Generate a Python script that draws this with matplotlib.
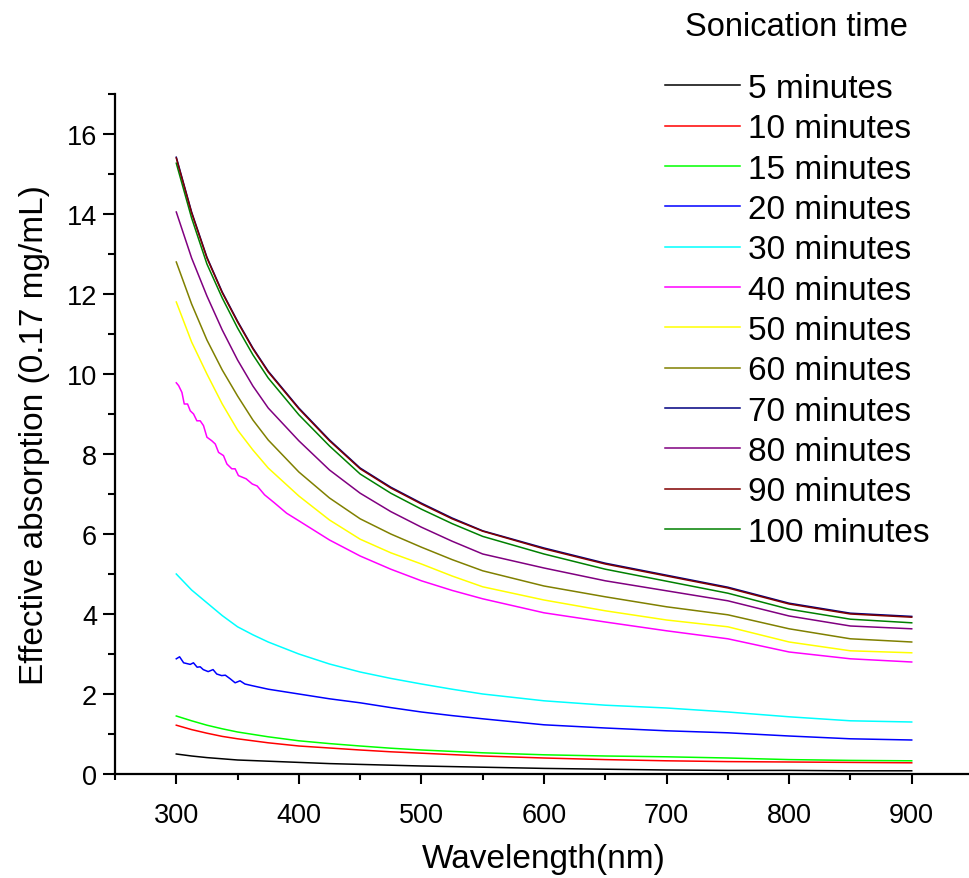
import matplotlib
matplotlib.use("Agg")
import matplotlib.pyplot as plt
from matplotlib.ticker import MultipleLocator

plt.rcParams['font.family'] = ['Liberation Sans', 'DejaVu Sans']

# ---------------- data ----------------
x_grid = [300, 312.5, 325, 337.5, 350, 362.5, 375, 400, 425, 450, 475, 500, 525, 550, 600, 650, 700, 750, 800, 850, 900]

y_5 = [0.50, 0.45, 0.41, 0.38, 0.35, 0.335, 0.32, 0.29, 0.26, 0.24, 0.22, 0.20, 0.185, 0.17, 0.14, 0.12, 0.10, 0.09, 0.09, 0.08, 0.08]
y_10 = [1.22, 1.11, 1.02, 0.94, 0.88, 0.83, 0.78, 0.70, 0.65, 0.60, 0.555, 0.52, 0.485, 0.45, 0.40, 0.36, 0.33, 0.31, 0.30, 0.29, 0.28]
y_15 = [1.45, 1.33, 1.22, 1.13, 1.05, 0.99, 0.93, 0.83, 0.76, 0.70, 0.645, 0.60, 0.565, 0.53, 0.48, 0.45, 0.43, 0.40, 0.36, 0.34, 0.33]

x_20 = [300, 302.7, 306, 311.4, 314, 317, 319.5, 322, 326, 330, 333, 337, 340, 344, 348, 352, 356,
        361.6, 375, 400, 425, 450, 475, 500, 525, 550, 600, 650, 700, 750, 800, 850, 900]
y_20 = [2.88, 2.93, 2.78, 2.74, 2.78, 2.67, 2.68, 2.61, 2.56, 2.61, 2.50, 2.46, 2.47, 2.38, 2.28, 2.33, 2.25,
        2.21, 2.12, 2.00, 1.88, 1.78, 1.66, 1.55, 1.46, 1.38, 1.23, 1.15, 1.08, 1.03, 0.95, 0.88, 0.85]

y_30 = [5.00, 4.60, 4.28, 3.96, 3.68, 3.48, 3.30, 3.00, 2.75, 2.55, 2.39, 2.25, 2.12, 2.00, 1.83, 1.72, 1.65, 1.55, 1.43, 1.33, 1.30]

x_40 = [300, 301.9, 304.6, 306.5, 309.2, 311.4, 314.1, 316.8, 319.5, 322.2, 325, 329, 331.8, 334.5,
        338.5, 341.3, 345.3, 348, 350.7, 357, 362, 366, 372, 380, 390, 400, 425, 450, 475, 500, 525, 550,
        600, 650, 700, 750, 800, 850, 900]
y_40 = [9.78, 9.71, 9.54, 9.25, 9.25, 9.08, 9.00, 8.83, 8.83, 8.71, 8.42, 8.33, 8.25, 8.04,
        7.96, 7.75, 7.63, 7.63, 7.46, 7.38, 7.25, 7.20, 6.98, 6.78, 6.52, 6.33, 5.85, 5.45, 5.12, 4.83, 4.59, 4.38,
        4.03, 3.80, 3.58, 3.38, 3.05, 2.88, 2.80]

y_50 = [11.80, 10.80, 10.00, 9.25, 8.60, 8.10, 7.65, 6.95, 6.35, 5.87, 5.53, 5.25, 4.95, 4.68, 4.35, 4.08, 3.85, 3.68, 3.30, 3.08, 3.03]
y_60 = [12.80, 11.75, 10.85, 10.10, 9.45, 8.85, 8.35, 7.55, 6.90, 6.38, 6.00, 5.67, 5.36, 5.08, 4.70, 4.43, 4.18, 3.98, 3.63, 3.38, 3.30]
y_70 = [15.42, 14.05, 12.92, 12.05, 11.32, 10.65, 10.07, 9.15, 8.35, 7.65, 7.17, 6.77, 6.40, 6.08, 5.65, 5.27, 4.97, 4.67, 4.27, 4.02, 3.94]
y_80 = [14.05, 12.90, 11.95, 11.10, 10.35, 9.70, 9.15, 8.33, 7.60, 7.02, 6.56, 6.17, 5.82, 5.50, 5.15, 4.83, 4.58, 4.33, 3.95, 3.70, 3.63]
y_90 = [15.40, 14.03, 12.90, 12.03, 11.30, 10.63, 10.05, 9.13, 8.33, 7.63, 7.15, 6.75, 6.38, 6.07, 5.63, 5.25, 4.95, 4.65, 4.25, 4.00, 3.92]
y_100 = [15.27, 13.90, 12.75, 11.90, 11.15, 10.48, 9.90, 8.98, 8.20, 7.50, 7.02, 6.62, 6.26, 5.94, 5.50, 5.12, 4.82, 4.52, 4.12, 3.87, 3.78]

labels = ["5 minutes", "10 minutes", "15 minutes", "20 minutes", "30 minutes", "40 minutes",
          "50 minutes", "60 minutes", "70 minutes", "80 minutes", "90 minutes", "100 minutes"]
colors = ["#000000", "#FF0000", "#00FF00", "#0000FF", "#00FFFF", "#FF00FF",
          "#FFFF00", "#808000", "#000080", "#800080", "#800000", "#008000"]

series_x = [x_grid, x_grid, x_grid, x_20, x_grid, x_40, x_grid, x_grid, x_grid, x_grid, x_grid, x_grid]
series_y = [y_5, y_10, y_15, y_20, y_30, y_40, y_50, y_60, y_70, y_80, y_90, y_100]

# ---------------- figure ----------------
W, H = 970, 879
fig = plt.figure(figsize=(W / 100, H / 100), dpi=100)
ax = fig.add_axes([115 / W, 1 - 775 / H, (973 - 115) / W, 680 / H])

# draw order: 90 drawn over 70 so the dark red dominates
order = [0, 1, 2, 3, 4, 5, 6, 7, 9, 11, 8, 10]
handles = {}
for i in order:
    ln, = ax.plot(series_x[i], series_y[i], color=colors[i], lw=1.1, label=labels[i])
    handles[i] = ln

ax.set_xlim(250, 950)
ax.set_ylim(0, 17)
ax.xaxis.set_minor_locator(MultipleLocator(50))
ax.yaxis.set_major_locator(MultipleLocator(2))
ax.yaxis.set_minor_locator(MultipleLocator(1))
ax.set_xticks([300, 400, 500, 600, 700, 800, 900])

for s in ['top', 'right']:
    ax.spines[s].set_visible(False)
for s in ['left', 'bottom']:
    ax.spines[s].set_linewidth(1.6)

ax.tick_params(axis='both', which='major', direction='out', width=1.5, labelsize=19.5)
ax.tick_params(axis='both', which='minor', direction='out', width=1.5)
ax.tick_params(axis='x', which='major', length=7, pad=13)
ax.tick_params(axis='x', which='minor', length=4)
ax.tick_params(axis='y', which='major', length=9, pad=4)
ax.tick_params(axis='y', which='minor', length=5)

ax.set_xlabel("Wavelength(nm)", fontsize=24, labelpad=11)
ax.set_ylabel("Effective absorption (0.17 mg/mL)", fontsize=24, labelpad=12)

fig.text(796.5 / W, 1 - 28 / H, "Sonication time", fontsize=23.5, ha='center', va='center')
leg = fig.legend([handles[i] for i in range(12)], labels,
                 loc='upper left', bbox_to_anchor=(665 / W, 1 - 74 / H),
                 frameon=False, fontsize=24, handlelength=2.25, handletextpad=0.24,
                 labelspacing=0.28, borderpad=0, borderaxespad=0)

fig.savefig("out.png", dpi=100)
